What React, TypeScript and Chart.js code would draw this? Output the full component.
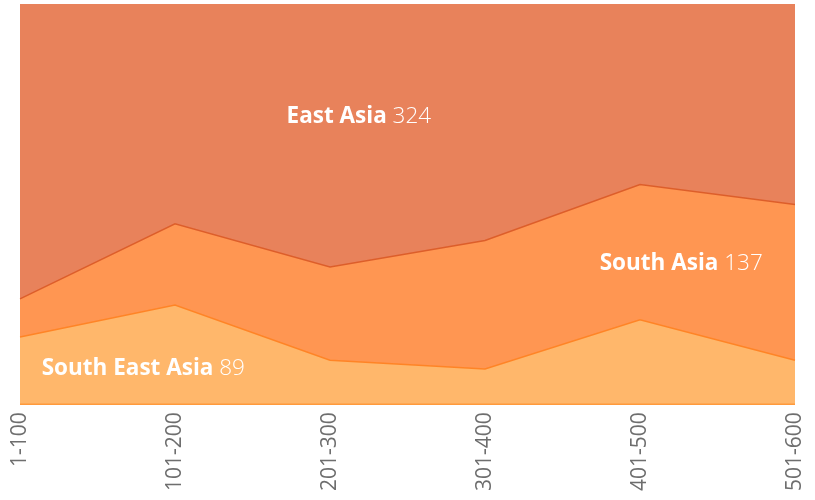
import React, { useEffect, useRef } from "react";
import { Chart, registerables } from "chart.js";

Chart.register(...registerables);

const categories = ["1-100", "101-200", "201-300", "301-400", "401-500", "501-600"];
// share (%) of each region per ranking band
const southEastAsia = [16.8, 24.8, 11.0, 8.8, 21.1, 11.0];
const southAsia = [9.5, 20.3, 23.3, 32.1, 33.8, 38.9];
const eastAsia = [73.7, 54.9, 65.7, 59.1, 45.1, 50.1];

const seriesNames = ["South East Asia", "South Asia", "East Asia"];
const seriesTotals = [89, 137, 324];
// label anchors in data units (category index, percent)
const labelX = [0.14, 3.74, 1.72];
const labelY = [9.0, 35.1, 71.9];

export default function App() {
  const ref = useRef<HTMLCanvasElement | null>(null);
  useEffect(() => {
    document.body.style.margin = "0";
    const canvas = ref.current!;
    const labelPlugin = {
      id: "regionLabels",
      afterDatasetsDraw(chart: any) {
        const { ctx, scales, chartArea } = chart;
        ctx.save();
        // thin outline along bottom and right edge of the areas
        ctx.strokeStyle = "#FF9A3C";
        ctx.lineWidth = 1.5;
        ctx.beginPath();
        ctx.moveTo(chartArea.left, chartArea.bottom);
        ctx.lineTo(chartArea.right, chartArea.bottom);
        ctx.stroke();
        ctx.textBaseline = "middle";
        ctx.textAlign = "left";
        ctx.fillStyle = "#ffffff";
        for (let i = 0; i < seriesNames.length; i++) {
          const x = scales.x.getPixelForValue(labelX[i]);
          const y = scales.y.getPixelForValue(labelY[i]);
          ctx.font = "bold 22.5px 'Open Sans'";
          const name = seriesNames[i] + " ";
          ctx.fillText(name, x, y);
          const w = ctx.measureText(name).width;
          ctx.font = "300 22.5px 'Open Sans'";
          ctx.fillText(String(seriesTotals[i]), x + w, y);
        }
        ctx.restore();
      },
    };
    const chart = new Chart(canvas, {
      type: "line",
      data: {
        labels: categories,
        datasets: [
          {
            label: seriesNames[0],
            data: southEastAsia,
            backgroundColor: "#FFB76B",
            borderColor: "#FF8426",
            borderWidth: 1.5,
            fill: "origin",
            pointRadius: 0,
            tension: 0,
          },
          {
            label: seriesNames[1],
            data: southAsia,
            backgroundColor: "#FF9652",
            borderColor: "#DD5E2A",
            borderWidth: 1.5,
            fill: "-1",
            pointRadius: 0,
            tension: 0,
          },
          {
            label: seriesNames[2],
            data: eastAsia,
            backgroundColor: "#E8825B",
            borderColor: "#E8825B",
            borderWidth: 0,
            fill: "-1",
            pointRadius: 0,
            tension: 0,
          },
        ],
      },
      options: {
        animation: false,
        responsive: false,
        layout: { padding: { left: 20, right: 20, top: 4, bottom: 1 } },
        plugins: { legend: { display: false }, tooltip: { enabled: false } },
        scales: {
          x: {
            offset: false,
            grid: { display: false, drawTicks: false },
            border: { display: false },
            afterFit: (scale: any) => {
              scale.paddingLeft = 0;
              scale.paddingRight = 0;
            },
            ticks: {
              minRotation: 90,
              maxRotation: 90,
              padding: 8,
              color: "#6e6e6e",
              font: { family: "'Open Sans'", size: 21 },
            },
          },
          y: {
            display: false,
            stacked: true,
            min: 0,
            max: 100,
          },
        },
      },
      plugins: [labelPlugin],
    });
    return () => chart.destroy();
  }, []);
  return (
    <div style={{ width: 815, height: 500 }}>
      <canvas ref={ref} width={815} height={500} style={{ display: "block" }} />
    </div>
  );
}
